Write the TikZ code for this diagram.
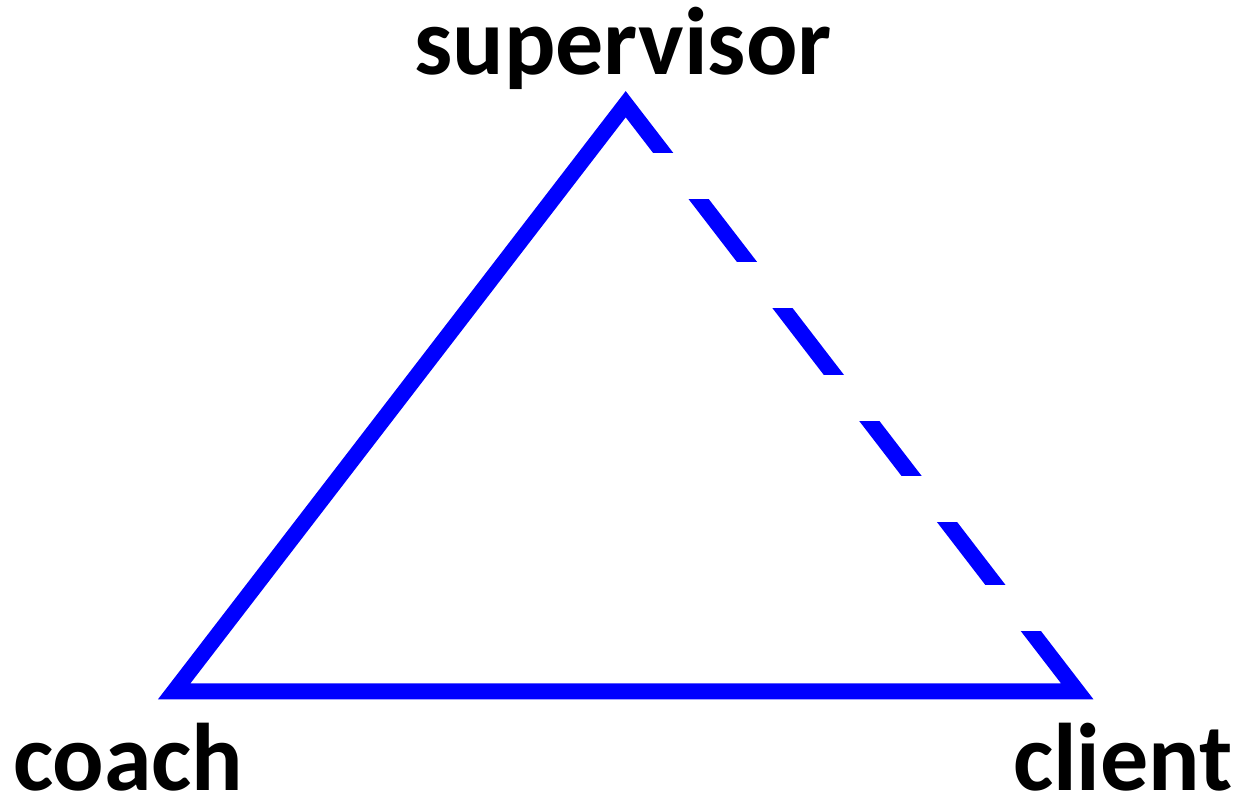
\documentclass[tikz,border=0pt]{standalone}
\usepackage{fontspec}
\setmainfont{Carlito}
\tikzset{
  lbl/.style={inner sep=0pt, anchor=base, font=\fontsize{48pt}{56pt}\selectfont\bfseries},
  side/.style={draw=blue, line width=8pt, line join=miter},
  gap/.style={fill=white, draw=none}
}
\begin{document}
\begin{tikzpicture}[x=0.5pt, y=-0.5pt]
\useasboundingbox (0,0) rectangle (1240,799);
\coordinate (S) at (625.7,104.2);
\coordinate (C) at (174.2,691.3);
\coordinate (K) at (1077.2,691.3);
\draw[side] (C) -- (S) -- (K) -- cycle;
% gaps in the supervisor--client side
\foreach \a/\b in {152.7/199.3, 261.7/308.2, 374.7/421, 475.7/522, 584.7/631}{
  \fill[gap] ({625.7+0.769*(\a-104.2)-16},\a) rectangle ({625.7+0.769*(\b-104.2)+16},\b);
}
\node[lbl] (sup) at (623,74) {supervisor};
\node[lbl, text depth=0pt] (coa) at (128.2,790) {coach};
\node[lbl, text depth=0pt] (cli) at (1123,790) {client};
\end{tikzpicture}
\end{document}
